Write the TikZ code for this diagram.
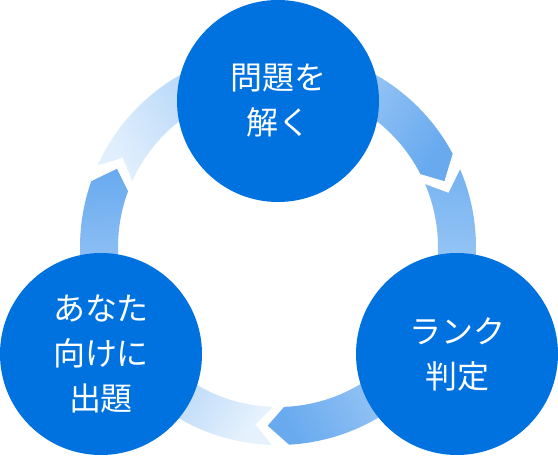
\documentclass[tikz,border=0pt]{standalone}
\usepackage{fontspec}
\newfontfamily\jpfont{Noto Sans CJK JP}
\usepackage{tikz}
\usetikzlibrary{shapes,arrows}
\definecolor{stepblue}{RGB}{0,114,224}
\definecolor{ringpale}{RGB}{225,239,253}
\definecolor{ringpaler}{RGB}{229,241,253}
\definecolor{ringlight}{RGB}{176,212,248}
\definecolor{ringmid}{RGB}{156,200,245}
\definecolor{ringnotch}{RGB}{120,180,241}
\definecolor{ringdark}{RGB}{105,170,239}

\begin{document}
\begin{tikzpicture}[x = 1pt, y = 1pt,
  stage/.style = {circle, fill = stepblue, minimum size = 202pt, inner sep = 0pt,
    text = white, align = center, font = \jpfont\fontsize{32}{45}\selectfont}]
\useasboundingbox (0,0) rectangle (558,456);
\fill[white] (0,0) rectangle (558,456);

\begin{scope}[shift = {(278,209)}]
\shade[bottom color = ringpale, top color = ringmid, shading angle = -59.9]
  (155.6:198) arc[start angle = 155.6, end angle = 90, radius = 198] -- (90:160)
  arc[start angle = 90, end angle = 155.6, radius = 160] -- (150.1:179) -- cycle;
\shade[bottom color = ringlight, top color = ringdark, shading angle = -124.2]
  (90:198) arc[start angle = 90, end angle = 28.1, radius = 198] -- (21.6:179)
  -- (27.1:160) arc[start angle = 27.1, end angle = 90, radius = 160] -- cycle;

\shade[bottom color = ringnotch, top color = ringlight, shading angle = 173.4]
  (23.1:198) arc[start angle = 23.1, end angle = -30.9, radius = 198] -- (-30.9:160)
  arc[start angle = -30.9, end angle = 23.1, radius = 160] -- (17.6:179) -- cycle;
\shade[bottom color = ringlight, top color = ringdark, shading angle = 117.9]
  (-30.9:198) arc[start angle = -30.9, end angle = -86.8, radius = 198] -- (-93.3:179)
  -- (-87.8:160) arc[start angle = -87.8, end angle = -30.9, radius = 160] -- cycle;

\shade[bottom color = ringpaler, top color = ringmid, shading angle = 56.8]
  (-91.8:198) arc[start angle = -91.8, end angle = -149, radius = 198] -- (-149:160)
  arc[start angle = -149, end angle = -91.8, radius = 160] -- (-97.3:179) -- cycle;
\shade[bottom color = ringlight, top color = ringdark, shading angle = 2.6]
  (-149:198) arc[start angle = -149, end angle = -199.4, radius = 198] -- (-205.9:179)
  -- (-200.4:160) arc[start angle = -200.4, end angle = -149, radius = 160] -- cycle;
\end{scope}

\node[stage] (solve) at (278,355) {問題を\\解く};
\node[stage] (rank) at (457,102) {ランク\\判定};
\node[stage] (quiz) at (101,102) {あなた\\向けに\\出題};
\end{tikzpicture}
\end{document}
